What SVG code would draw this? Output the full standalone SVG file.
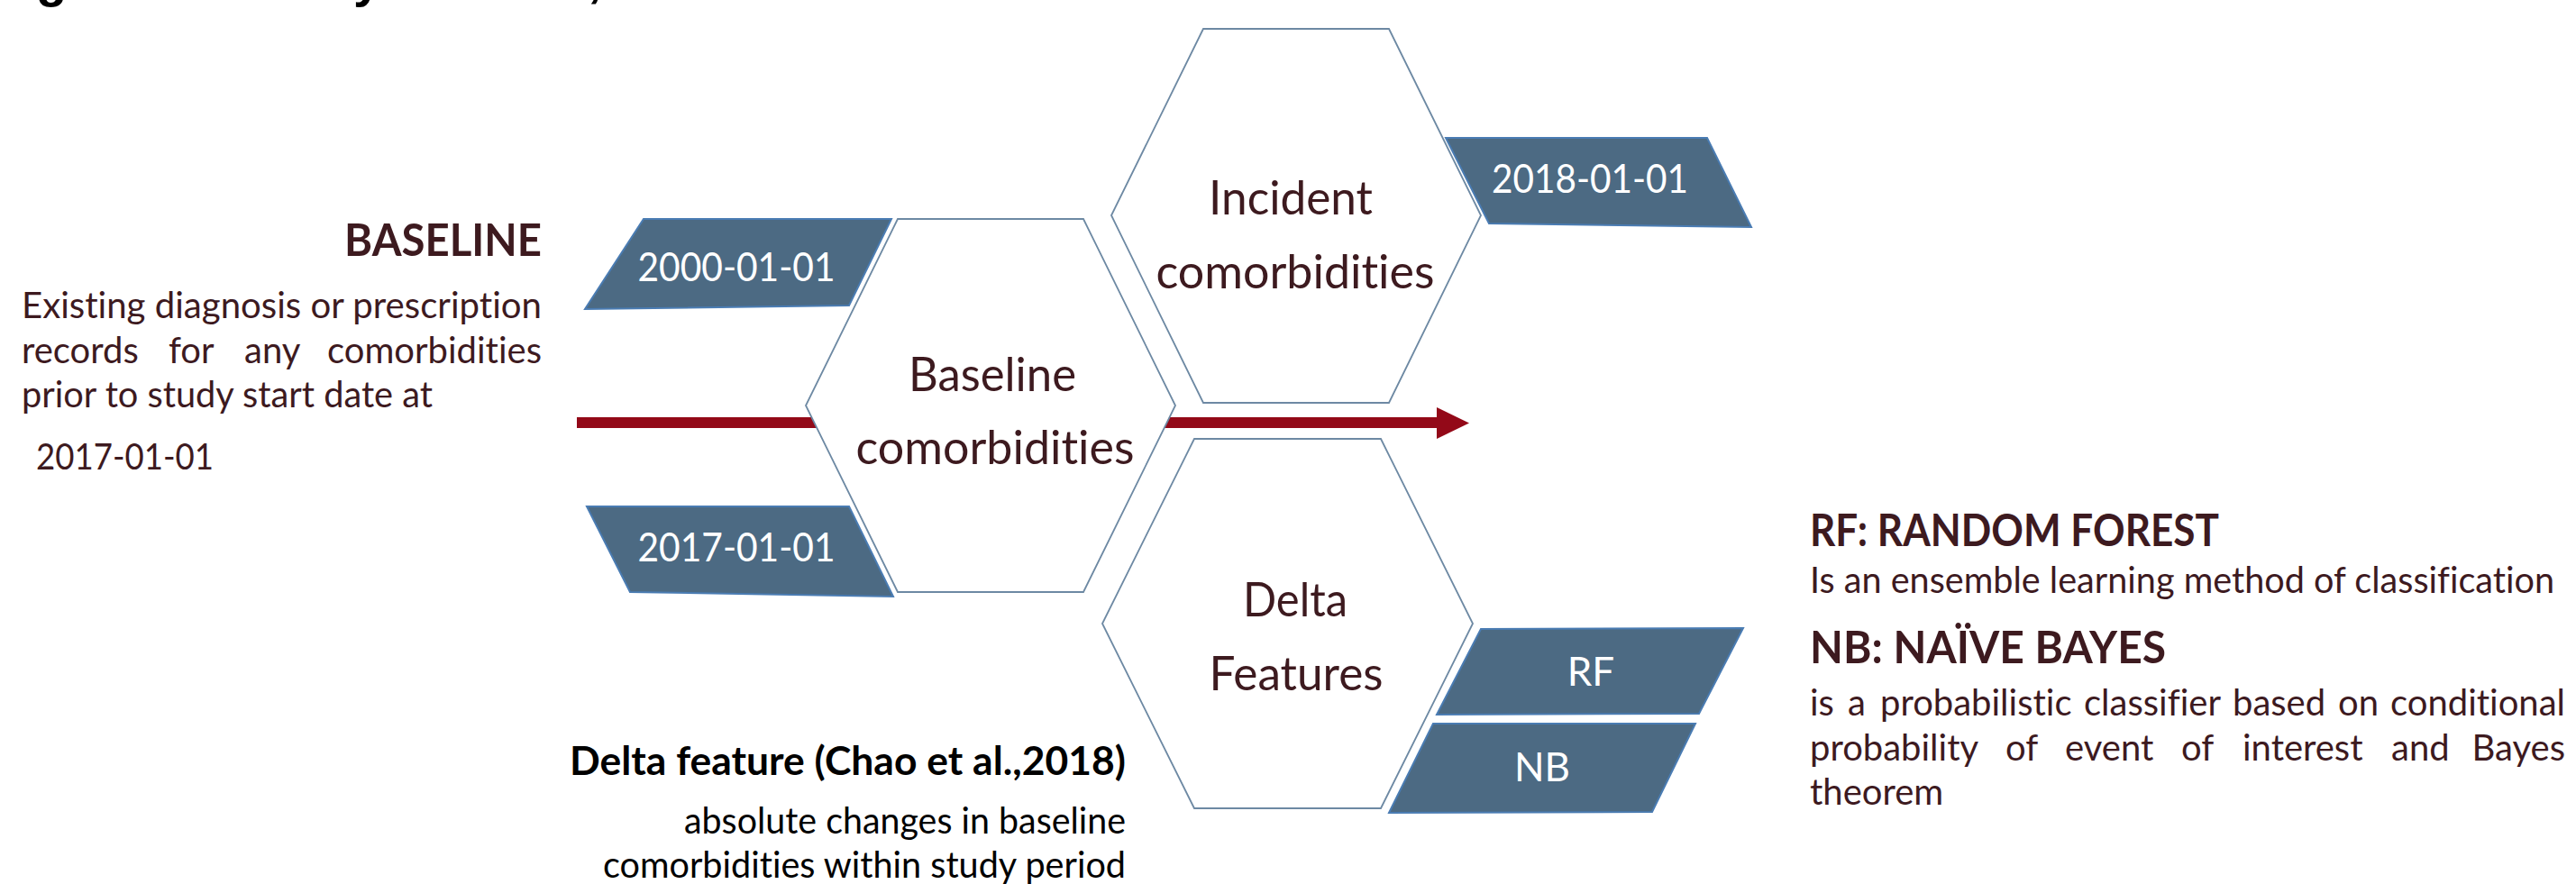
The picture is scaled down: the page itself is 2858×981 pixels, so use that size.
<svg xmlns="http://www.w3.org/2000/svg" width="2858" height="981" viewBox="0 0 2858 981">
<style>
text{font-variant-ligatures:none}
.hex{fill:#ffffff;stroke:#6d89a3;stroke-width:1.8}
.tag{fill:#4c6a83;stroke:#4a7cb3;stroke-width:2}
.tagtxt{font-family:Lato,"Open Sans","Liberation Sans",sans-serif;font-size:44px;fill:#ffffff;text-anchor:middle}
.hextxt{font-family:Lato,"Open Sans","Liberation Sans",sans-serif;font-size:52px;fill:#3d1a1f;text-anchor:middle}
.head{font-family:Lato,"Open Sans","Liberation Sans",sans-serif;font-weight:bold;font-size:49px;fill:#3d1a1f}
.body{font-family:Lato,"Open Sans","Liberation Sans",sans-serif;font-size:40px;fill:#3d1a1f}
.note{font-family:Lato,"Open Sans","Liberation Sans",sans-serif;font-size:40px;fill:#000000}
.notehead{font-family:Lato,"Open Sans","Liberation Sans",sans-serif;font-weight:bold;font-size:44px;fill:#000000}
.frag{font-family:"Liberation Sans",Arial,sans-serif;font-weight:bold;font-size:56px;fill:#000000}
.arrow{fill:#930918}
</style>
<rect x="0" y="0" width="2858" height="981" fill="#ffffff"/>

<g id="title-fragment">
<text class="frag" x="40" y="-4">g</text>
<text class="frag" x="392" y="-4">y</text>
<text class="frag" x="652" y="-4">,</text>
</g>

<g id="connectors">
<rect class="arrow" x="640" y="463" width="956" height="12"/>
<polygon class="arrow" points="1594,452 1630,469.5 1594,487"/>
</g>

<g id="baseline-text">
<text class="head" x="601" y="284" text-anchor="end" textLength="219" lengthAdjust="spacingAndGlyphs">BASELINE</text>
<text class="body" x="24" y="353" textLength="577" lengthAdjust="spacingAndGlyphs">Existing diagnosis or prescription</text>
<text class="body" y="403"><tspan x="24">records</tspan><tspan x="187">for</tspan><tspan x="271">any</tspan></text>
<text class="body" x="601" y="403" text-anchor="end">comorbidities</text>
<text class="body" x="24" y="452" textLength="456" lengthAdjust="spacingAndGlyphs">prior to study start date at</text>
<text class="body" x="40" y="521" textLength="197" lengthAdjust="spacingAndGlyphs">2017-01-01</text>
</g>

<g id="hex-baseline">
<polygon class="hex" points="996,243 1202,243 1304,450 1202,657 996,657 894,450"/>
<text class="hextxt" x="1101" y="434" textLength="186" lengthAdjust="spacingAndGlyphs">Baseline</text>
<text class="hextxt" x="1104" y="515" textLength="309" lengthAdjust="spacingAndGlyphs">comorbidities</text>
</g>

<g id="hex-incident">
<polygon class="hex" points="1335,32 1541,32 1643,239 1541,447 1335,447 1233,239"/>
<text class="hextxt" x="1432" y="238" textLength="182" lengthAdjust="spacingAndGlyphs">Incident</text>
<text class="hextxt" x="1437" y="320" textLength="309" lengthAdjust="spacingAndGlyphs">comorbidities</text>
</g>

<g id="hex-delta">
<polygon class="hex" points="1325,487 1532,487 1634,692 1532,897 1325,897 1223,692"/>
<text class="hextxt" x="1437" y="684" textLength="116" lengthAdjust="spacingAndGlyphs">Delta</text>
<text class="hextxt" x="1438" y="766" textLength="193" lengthAdjust="spacingAndGlyphs">Features</text>
</g>

<g id="tag-2000">
<polygon class="tag" points="714,243 989,243 942,339 649,343"/>
<text class="tagtxt" x="817" y="312" textLength="219" lengthAdjust="spacingAndGlyphs">2000-01-01</text>
</g>

<g id="tag-2017">
<polygon class="tag" points="651,562 942,562 991,662 699,657"/>
<text class="tagtxt" x="817" y="623" textLength="219" lengthAdjust="spacingAndGlyphs">2017-01-01</text>
</g>

<g id="tag-2018">
<polygon class="tag" points="1604,153 1894,153 1943,252 1652,248"/>
<text class="tagtxt" x="1764" y="214" textLength="218" lengthAdjust="spacingAndGlyphs">2018-01-01</text>
</g>

<g id="tag-rf">
<polygon class="tag" points="1643,698 1934,697 1885,792 1594,793"/>
<text class="tagtxt" x="1765" y="761" font-size="41">RF</text>
</g>

<g id="tag-nb">
<polygon class="tag" points="1590,803 1881,803 1833,901 1541,902"/>
<text class="tagtxt" x="1711" y="867" font-size="41">NB</text>
</g>

<g id="delta-note">
<text class="notehead" x="1249" y="860" text-anchor="end" textLength="617" lengthAdjust="spacingAndGlyphs">Delta feature (Chao et al.,2018)</text>
<text class="note" x="1249" y="925" text-anchor="end" textLength="490" lengthAdjust="spacingAndGlyphs">absolute changes in baseline</text>
<text class="note" x="1249" y="974" text-anchor="end" textLength="580" lengthAdjust="spacingAndGlyphs">comorbidities within study period</text>
</g>

<g id="legend">
<text class="head" x="2008" y="606" textLength="454" lengthAdjust="spacingAndGlyphs">RF: RANDOM FOREST</text>
<text class="body" x="2008" y="658" textLength="826" lengthAdjust="spacingAndGlyphs">Is an ensemble learning method of classification</text>
<text class="head" x="2008" y="736" textLength="395" lengthAdjust="spacingAndGlyphs">NB: NAÏVE BAYES</text>
<text class="body" y="794"><tspan x="2008">is</tspan><tspan x="2050">a</tspan><tspan x="2086">probabilistic</tspan><tspan x="2312">classifier</tspan><tspan x="2477">based</tspan><tspan x="2594">on</tspan></text>
<text class="body" x="2846" y="794" text-anchor="end">conditional</text>
<text class="body" y="844"><tspan x="2008">probability</tspan><tspan x="2225">of</tspan><tspan x="2291">event</tspan><tspan x="2420">of</tspan><tspan x="2488">interest</tspan><tspan x="2653">and</tspan></text>
<text class="body" x="2846" y="844" text-anchor="end">Bayes</text>
<text class="body" x="2008" y="893">theorem</text>
</g>
</svg>
